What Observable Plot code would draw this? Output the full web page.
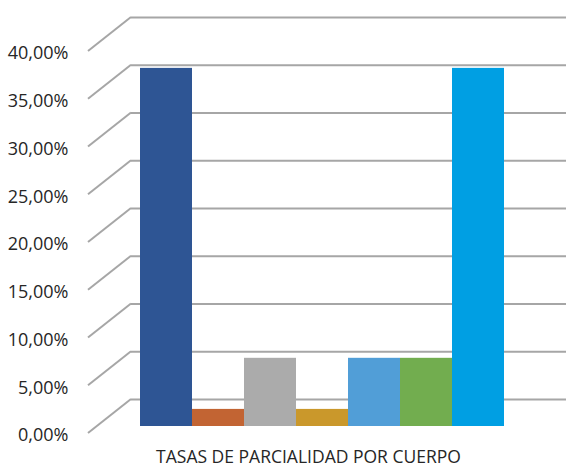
<!DOCTYPE html>
<html>
<head>
<meta charset="utf-8">
<script src="https://cdn.jsdelivr.net/npm/d3@7"></script>
<script src="https://cdn.jsdelivr.net/npm/@observablehq/plot@0.6"></script>
<style>
  html, body { margin: 0; padding: 0; background: #ffffff; }
  #chart { width: 566px; height: 465px; overflow: hidden; }
</style>
</head>
<body>
<div id="chart"></div>
<script>
// ---- data ----
const category = "TASAS DE PARCIALIDAD POR CUERPO";
const series = ["Cuerpo 1", "Cuerpo 2", "Cuerpo 3", "Cuerpo 4", "Cuerpo 5", "Cuerpo 6", "Cuerpo 7"];
const values = [0.375, 0.0179, 0.0714, 0.0179, 0.0714, 0.0714, 0.375];
const colors = ["#2E5594", "#C26433", "#ABABAB", "#CA982B", "#519ED7", "#72AD4F", "#009FE3"];
const yTicks = [0, 0.05, 0.10, 0.15, 0.20, 0.25, 0.30, 0.35, 0.40];

const data = series.map((s, i) => ({series: s, value: values[i]}));

// style constants for the pseudo-3D depth
const depthX = 43, backShift = 27, frontShift = 7;
const gridColor = "#A6A6A6";

const fmt = v => (v * 100).toFixed(2).replace(".", ",") + "%";

const diagonals = (index, scales, vals, dims) => {
  const g = d3.create("svg:g")
    .attr("stroke", gridColor)
    .attr("stroke-width", 2)
    .attr("fill", "none");
  for (const v of yTicks) {
    const yy = scales.y(v);
    g.append("line")
      .attr("x1", dims.marginLeft - depthX)
      .attr("y1", yy + frontShift)
      .attr("x2", dims.marginLeft)
      .attr("y2", yy - backShift);
  }
  return g.node();
};

const chart = Plot.plot({
  width: 566,
  height: 465,
  marginLeft: 131,
  marginRight: 0,
  marginTop: 0,
  marginBottom: 0,
  style: {fontFamily: "'Open Sans', sans-serif", background: "#ffffff", color: "#262626"},
  x: {type: "band", domain: series, range: [139, 504], padding: 0, axis: null},
  y: {domain: [0, 0.40], range: [426, 44], axis: null},
  color: {domain: series, range: colors},
  marks: [
    Plot.ruleY(yTicks, {y: d => d, dy: -backShift, stroke: gridColor, strokeWidth: 2}),
    diagonals,
    Plot.axisY(yTicks, {anchor: "left", tickSize: 0, tickPadding: 63, dy: 9, fontSize: 18, tickFormat: fmt, fill: "#262626", label: null}),
    Plot.barY(data, {x: "series", y: "value", fill: "series", inset: 0}),
    Plot.text([category], {x: () => series[Math.floor(series.length / 2)], frameAnchor: "bottom", lineAnchor: "bottom", text: d => d, fontSize: 17.5, fill: "#262626", dx: -14, dy: -3})
  ]
});
document.getElementById("chart").appendChild(chart);
</script>
</body>
</html>
